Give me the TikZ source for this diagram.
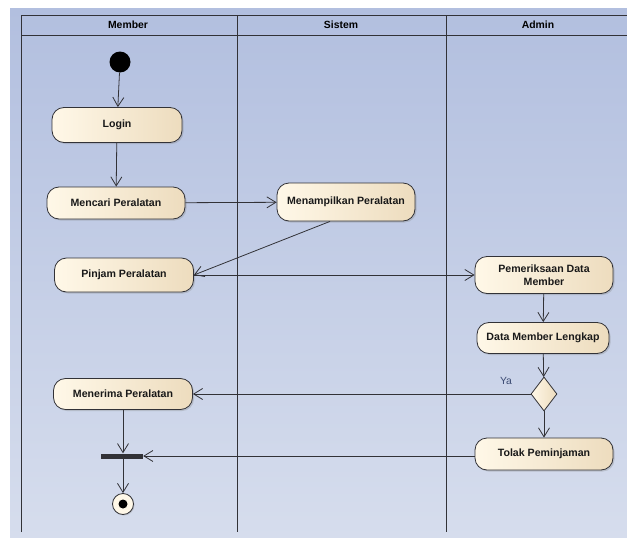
\documentclass[tikz,border=0pt]{standalone}
\usepackage{fontspec}
\setmainfont{Liberation Sans}
\usepackage{xcolor}
\usepackage{tikz}
\usetikzlibrary{arrows.meta, positioning, calc, shapes.geometric, shadows}

\definecolor{cream}{RGB}{255,248,232}
\definecolor{tan}{RGB}{237,220,190}
\definecolor{bgtop}{RGB}{178,191,223}
\definecolor{bgbot}{RGB}{214,221,237}
\definecolor{ln}{RGB}{50,50,55}
\definecolor{yablue}{RGB}{60,75,115}

\begin{document}
\begin{tikzpicture}[x=1pt, y=-1pt,
    act/.style={draw=ln, line width=0.8pt, rounded corners=12pt, left color=cream, right color=tan,
      minimum height=32pt, inner sep=2pt, align=center, text=black!90,
      font=\fontsize{10.6}{12.5}\selectfont\bfseries,
      drop shadow={shadow xshift=1.5pt, shadow yshift=-1.5pt, opacity=0.3}},
    dec/.style={diamond, draw=ln, line width=0.8pt, left color=cream, right color=tan,
      minimum width=26pt, minimum height=34pt, inner sep=0pt, aspect=0.76},
    flow/.style={draw=ln, line width=0.8pt, -{Straight Barb[length=9pt, width=11pt]}},
    lane/.style={draw=ln, line width=1pt},
    hdr/.style={font=\fontsize{10.4}{12}\selectfont\bfseries}]
    \useasboundingbox (0,0) rectangle (627,538);
    \fill[top color=bgtop, bottom color=bgbot] (10,8) rectangle (627,538);
    % swimlanes
    \draw[lane] (21,532) -- (21,15) -- (627,15);
    \draw[lane] (21,35) -- (627,35);
    \draw[lane] (237,15) -- (237,532);
    \draw[lane] (446,15) -- (446,532);
    \node[hdr] (hmember) at (128,25) {Member};
    \node[hdr] (hsistem) at (341,25) {Sistem};
    \node[hdr] (hadmin) at (538,25) {Admin};
    % activities
    \node[circle, fill=black, minimum size=21pt, inner sep=0pt] (start) at (120,62) {};
    \node[act, minimum width=130pt, minimum height=35pt] (login) at (117,125) {Login};
    \node[act, minimum width=138pt] (cari) at (116,203) {Mencari Peralatan};
    \node[act, minimum width=138pt, minimum height=38pt] (tampil) at (346,202) {Menampilkan Peralatan};
    \node[act, minimum width=139pt, minimum height=34pt] (pinjam) at (124,275) {Pinjam Peralatan};
    \node[act, minimum width=138pt, minimum height=37pt] (periksa) at (544,275) {Pemeriksaan Data\\Member};
    \node[act, minimum width=132pt, minimum height=31pt] (lengkap) at (543,338) {Data Member Lengkap};
    \node[dec] (cek) at (544,394) {};
    \node[font=\fontsize{10.4}{12}\selectfont, text=yablue] (ya) at (506,381) {Ya};
    \node[act, minimum width=139pt, minimum height=31pt] (terima) at (123,394) {Menerima Peralatan};
    \node[act, minimum width=138pt, minimum height=32pt] (tolak) at (544,454) {Tolak Peminjaman};
    \node[fill=ln, minimum width=42pt, minimum height=5pt, inner sep=0pt] (join) at (122,456) {};
    \node[circle, draw=ln, line width=0.8pt, fill=cream, minimum size=21pt, inner sep=0pt,
      drop shadow={shadow xshift=1pt, shadow yshift=-1pt, opacity=0.3}] (end) at (123,504) {};
    \node[circle, fill=black, minimum size=9pt, inner sep=0pt] (enddot) at (end) {};
    % flows
    \draw[flow] (start) -- (login);
    \draw[flow] (login) -- (cari);
    \draw[flow] (cari) -- (tampil);
    \draw[flow] ($(tampil.south)+(-16,0)$) -- (pinjam.east);
    \draw[flow] (pinjam) -- (periksa);
    \draw[flow] (periksa) -- (lengkap);
    \draw[flow] (lengkap) -- (cek);
    \draw[flow] (cek) -- (terima);
    \draw[flow] (cek) -- (tolak);
    \draw[flow] (tolak.west |- join.east) -- (join.east);
    \draw[flow] (terima) -- (terima |- join.north);
    \draw[flow] (terima |- join.south) -- (end);
\end{tikzpicture}
\end{document}
